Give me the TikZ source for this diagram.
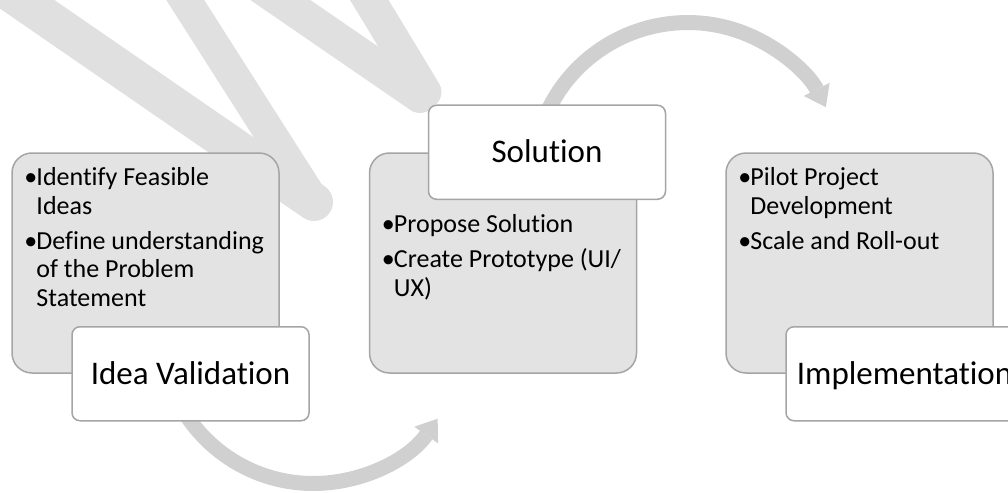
\documentclass[tikz,border=0pt]{standalone}
\usepackage{fontspec}
\setmainfont{Carlito}[Ligatures={NoCommon,NoContextual}]
\usepackage{tikz}
\usetikzlibrary{arrows.meta, positioning, backgrounds}

\definecolor{wmgray}{HTML}{E0E0E0}
\definecolor{arcgray}{HTML}{D0D0D0}
\definecolor{panelfill}{HTML}{E3E3E3}
\definecolor{panelline}{HTML}{A5A5A5}

\newcommand{\itm}{\makebox[12pt][l]{\textbullet}}
\newcommand{\cont}{\hspace*{12pt}}

\begin{document}
\begin{tikzpicture}[
        x=1pt, y=-1pt,
        panel/.style={draw=panelline, line width=1.5pt, fill=panelfill,
            rounded corners=20pt, minimum width=267pt, minimum height=220pt,
            inner sep=0pt},
        stage/.style={draw=panelline, line width=1.5pt, fill=white,
            rounded corners=8pt, minimum width=237pt, minimum height=94pt,
            inner sep=0pt, font=\fontsize{33}{40}\selectfont,
            text height=21pt, text depth=0pt},
        bullets/.style={anchor=north west, align=left, inner sep=0pt,
            font=\fontsize{26}{28.5}\selectfont},
        flow/.style={arcgray, line width=15pt,
            -{Triangle[width=29pt, length=20pt, line width=0pt]}},
        wm/.style={wmgray, line cap=round}
]

\useasboundingbox (0,0) rectangle (1008,492);
\clip (0,0) rectangle (1008,492);

%--- watermark (W) ---------------------------------------------
\draw[wm, line width=38pt] (-40,-42) -- (314,202);
\draw[wm, line width=32pt] (147,-60) -- (314,202);
\draw[wm, line width=34pt] (193,-60) -- (420,96);
\draw[wm, line width=33pt] (333,-60) -- (425,92);

%--- grey panels -----------------------------------------------
\node[panel] (ideabox) at (145.5,263) {};
\node[panel, right=89pt of ideabox] (solbox) {};
\node[panel, right=88pt of solbox] (implbox) {};

%--- panel texts -----------------------------------------------
\node[bullets] (ideatext) at ([xshift=13pt, yshift=-15pt]ideabox.north west)
    {\itm Identify Feasible\\\cont Ideas\\[6.5pt]\itm Define understanding\\\cont of the Problem\\\cont Statement};
\node[bullets] (soltext) at ([xshift=13pt, yshift=-62pt]solbox.north west)
    {\itm Propose Solution\\[6.5pt]\itm Create Prototype (UI/\\\cont UX)};
\node[bullets] (impltext) at ([xshift=13pt, yshift=-15pt]implbox.north west)
    {\itm Pilot Project\\\cont Development\\[6.5pt]\itm Scale and Roll-out};

%--- stage labels ----------------------------------------------
\node[stage, anchor=west] (valid) at ([xshift=60pt]ideabox.south west) {Idea Validation};
\node[stage, anchor=west] (sol)   at ([xshift=59pt]solbox.north west) {Solution};
\node[stage, anchor=west] (impl)  at ([xshift=60pt]implbox.south west) {Implementation};

%--- curved arrows (behind the labels) -------------------------
\begin{pgfonlayer}{background}
\draw[flow] ([shift={(-9,-14)}]valid.south)
    arc[start angle=150, end angle=35, radius=152];
\draw[flow] ([shift={(-3,15)}]sol.north)
    arc[start angle=-158, end angle=-27, radius=155];
\end{pgfonlayer}

\end{tikzpicture}
\end{document}
